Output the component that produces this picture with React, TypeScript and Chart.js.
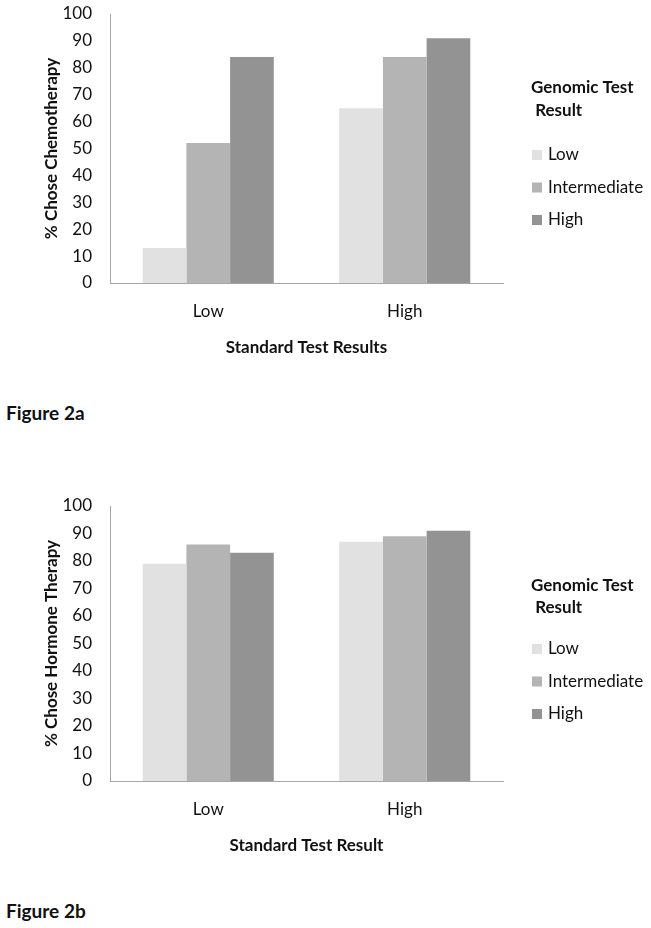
import React, { useEffect, useRef } from 'react';
import { Chart, registerables } from 'chart.js';

Chart.register(...registerables);

// ---- Data ----
const categories = ['Low', 'High'];
const seriesNames = ['Low', 'Intermediate', 'High'];
const seriesColors = ['#e1e1e1', '#b4b4b4', '#939393'];

// Figure 2a: % chose chemotherapy, by genomic test result
const chemoGenomicLow = [13, 65];
const chemoGenomicIntermediate = [52, 84];
const chemoGenomicHigh = [84, 91];

// Figure 2b: % chose hormone therapy, by genomic test result
const hormoneGenomicLow = [79, 87];
const hormoneGenomicIntermediate = [86, 89];
const hormoneGenomicHigh = [83, 91];

const yMin = 0;
const yMax = 100;
const yStep = 10;

const legendTitle = ['Genomic Test', ' Result'];

// ---- Styles ----
const FONT = 'Lato, "Open Sans", sans-serif';
const TXT = '#111111';
const AXIS = '#a6a6a6';

const sideLegend = {
  id: 'sideLegend',
  afterDraw(chart: any, _args: any, opts: any) {
    const ctx = chart.ctx;
    ctx.save();
    ctx.textAlign = 'left';
    ctx.textBaseline = 'middle';
    ctx.fillStyle = TXT;
    ctx.font = `bold ${opts.titleSize}px ${FONT}`;
    opts.title.forEach((line: string, i: number) => {
      ctx.fillText(line, opts.titleX, opts.titleY + i * opts.titleLineHeight);
    });
    ctx.font = `${opts.itemSize}px ${FONT}`;
    chart.data.datasets.forEach((ds: any, i: number) => {
      const y = opts.itemY + i * opts.itemGap;
      ctx.fillStyle = ds.backgroundColor;
      ctx.fillRect(opts.boxX, y - opts.boxSize / 2, opts.boxSize, opts.boxSize);
      ctx.fillStyle = TXT;
      ctx.fillText(ds.label, opts.textX, y);
    });
    ctx.restore();
  },
};

type Props = {
  top: number;
  height: number;
  plotTop: number;
  yTitle: string;
  xTitle: string;
  series: number[][];
  legend: any;
};

function BarChart({ top, height, plotTop, yTitle, xTitle, series, legend }: Props) {
  const ref = useRef<HTMLCanvasElement>(null);
  useEffect(() => {
    const tickFont = { family: FONT, size: 17 };
    const titleFont = { family: FONT, size: 17, weight: 'bold' as const };
    const chart = new Chart(ref.current!, {
      type: 'bar',
      data: {
        labels: categories,
        datasets: series.map((vals, i) => ({
          label: seriesNames[i],
          data: vals,
          backgroundColor: seriesColors[i],
          borderWidth: 0,
          categoryPercentage: 0.667,
          barPercentage: 1,
        })),
      },
      options: {
        responsive: false,
        animation: false,
        devicePixelRatio: 1,
        layout: { padding: { top: plotTop, right: 148, bottom: 0, left: 0 } },
        plugins: {
          legend: { display: false },
          tooltip: { enabled: false },
          sideLegend: legend,
        } as any,
        scales: {
          x: {
            grid: { display: false, drawTicks: false },
            border: { display: true, color: AXIS, width: 1 },
            ticks: { font: tickFont, color: TXT, padding: 18.8 },
            title: {
              display: true,
              text: xTitle,
              font: titleFont,
              color: TXT,
              padding: { top: 0, bottom: 21.8 },
            },
            afterFit: (s: any) => {
              s.height = 97;
              s.paddingLeft = 0;
              s.paddingRight = 0;
            },
          },
          y: {
            min: yMin,
            max: yMax,
            grid: { display: false, drawTicks: false },
            border: { display: true, color: AXIS, width: 1 },
            ticks: { stepSize: yStep, font: tickFont, color: TXT, padding: 18 },
            title: {
              display: true,
              text: yTitle,
              font: titleFont,
              color: TXT,
              padding: { top: 41.8, bottom: 0 },
            },
            afterFit: (s: any) => {
              s.width = 110;
              s.paddingTop = 0;
              s.paddingBottom = 0;
            },
          },
        },
      },
      plugins: [sideLegend],
    });
    return () => chart.destroy();
  }, []);
  return (
    <canvas
      ref={ref}
      width={651}
      height={height}
      style={{ position: 'absolute', left: 0, top, width: 651, height }}
    />
  );
}

const figLabelStyle = (centerY: number): React.CSSProperties => ({
  position: 'absolute',
  left: 6,
  top: centerY - 12,
  height: 24,
  lineHeight: '24px',
  fontFamily: FONT,
  fontWeight: 'bold',
  fontSize: 19,
  color: TXT,
  whiteSpace: 'nowrap',
});

export default function App() {
  return (
    <div
      style={{
        position: 'absolute',
        left: 0,
        top: 0,
        width: 651,
        height: 928,
        background: '#ffffff',
        overflow: 'hidden',
      }}
    >
      <BarChart
        top={0}
        height={380}
        plotTop={14}
        yTitle="% Chose Chemotherapy"
        xTitle="Standard Test Results"
        series={[chemoGenomicLow, chemoGenomicIntermediate, chemoGenomicHigh]}
        legend={{
          title: legendTitle,
          titleSize: 17,
          titleX: 531,
          titleY: 88,
          titleLineHeight: 23,
          itemSize: 17,
          boxX: 532,
          boxSize: 10,
          textX: 548,
          itemY: 155,
          itemGap: 32.5,
        }}
      />
      <div style={figLabelStyle(413)}>Figure 2a</div>
      <BarChart
        top={492}
        height={386}
        plotTop={14}
        yTitle="% Chose Hormone Therapy"
        xTitle="Standard Test Result"
        series={[hormoneGenomicLow, hormoneGenomicIntermediate, hormoneGenomicHigh]}
        legend={{
          title: legendTitle,
          titleSize: 17,
          titleX: 531,
          titleY: 94,
          titleLineHeight: 22,
          itemSize: 17,
          boxX: 532,
          boxSize: 10,
          textX: 548,
          itemY: 157,
          itemGap: 32.5,
        }}
      />
      <div style={figLabelStyle(911)}>Figure 2b</div>
    </div>
  );
}
